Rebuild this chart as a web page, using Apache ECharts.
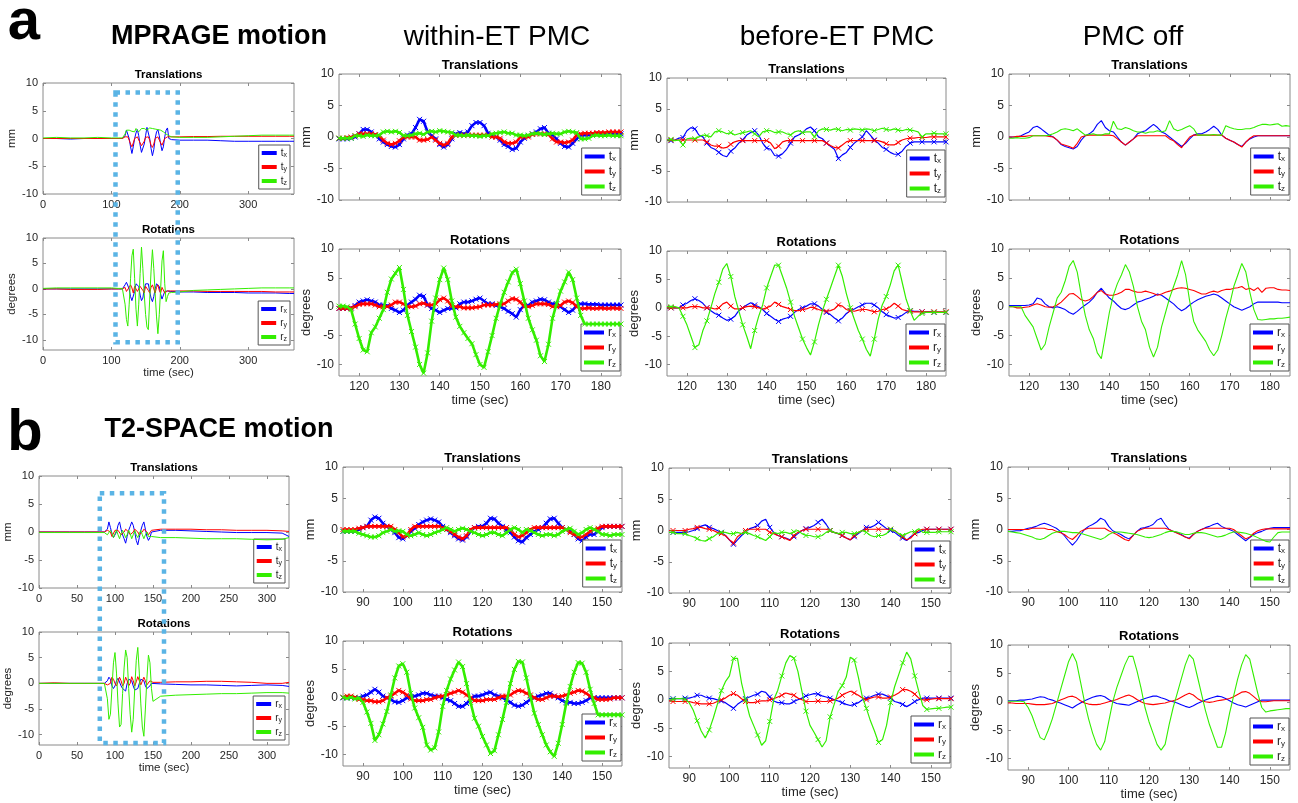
<!DOCTYPE html>
<html><head><meta charset="utf-8">
<script src="https://cdn.jsdelivr.net/npm/echarts@6/dist/echarts.min.js"></script>
<style>html,body{margin:0;padding:0;background:#fff}#c{width:1298px;height:803px}</style>
</head><body><div id="c"></div><script>
// ---------- time stamps (sec) ----------
const TA = [115,116,117,118,119,120,121,122,123,124,125,126,127,128,129,130,131,132,133,134,135,136,137,138,139,140,141,142,143,144,145,146,147,148,149,150,151,152,153,154,155,156,157,158,159,160,161,162,163,164,165,166,167,168,169,170,171,172,173,174,175,176,177,178,179,180,181,182,183,184,185];
const TB = [85,86,87,88,89,90,91,92,93,94,95,96,97,98,99,100,101,102,103,104,105,106,107,108,109,110,111,112,113,114,115,116,117,118,119,120,121,122,123,124,125,126,127,128,129,130,131,132,133,134,135,136,137,138,139,140,141,142,143,144,145,146,147,148,149,150,151,152,153,154,155];
const TA1 = [0,20,40,60,80,100,110,116,118,120,122,124,126,128,130,132,134,136,138,140,142,144,146,148,150,152,154,156,158,160,162,164,166,168,170,172,174,176,178,180,182,184,186,188,190,200,220,240,260,280,300,320,340,360,367];
const TB1 = [0,20,40,60,80,86,88,90,92,94,96,98,100,102,104,106,108,110,112,114,116,118,120,122,124,126,128,130,132,134,136,138,140,142,144,146,148,150,160,180,200,220,240,260,280,300,320,329];

// ---------- tick labels ----------
const XT_A1 = [0,100,200,300];
const XT_B1 = [0,50,100,150,200,250,300];
const XT_A = [120,130,140,150,160,170,180];
const XT_B = [90,100,110,120,130,140,150];
const YT = [-10,-5,0,5,10];
const TN = ['tx','ty','tz'];
const RN = ['rx','ry','rz'];

// ---------- a: MPRAGE overview ----------
const A1T_tx = [0,0,-0.1,0,0,0,0,0, 0,0.5,1.5,1.8,0,-1.5,-2.7,-1.5,0,1,1.6,0.5,-1.2,-2.5,-2.8,-1,0.5,2,1.8,0,-1.8,-3.1,-2,0,1.2,1.6,0.5,-1,-2.2,-1.5,0.3,1.5,1.9,0,-0.2,-0.2,-0.2, -0.3,-0.3,-0.3,-0.4,-0.5,-0.5,-0.5,-0.5,-0.5,-0.5];
const A1T_ty = [0,0,0,0,0,0,0,0, 0,0.3,0.5,0.3,-0.3,-1,-1.5,-0.8,0,0.3,0.3,0,-0.8,-1.3,-1.5,-0.5,0.2,0.3,0.3,-0.3,-1.2,-1.6,-1,0,0.3,0.3,0,-0.8,-1.2,-1,0,0.3,0.3,0.3,0.3,0.3,0.3, 0.3,0.35,0.35,0.4,0.4,0.4,0.4,0.4,0.4,0.4];
const A1T_tz = [0.1,0.2,0.1,0.1,0.2,0.1,0.1,0.1, 0.3,0.8,1.5,1.2,1.5,1.8,1.3,1.6,1.2,1.8,1.5,1.2,1.5,1.8,1.5,1.8,2.0,1.5,1.8,1.9,1.6,1.8,2.0,1.7,1.8,1.6,1.8,1.5,1.4,1.2,1.0,0.8,0.6,0.5,0.4,0.3,0.3, 0.2,0.2,0.2,0.3,0.4,0.5,0.6,0.6,0.6,0.6];
const A1R_rx = [0,0,0,0,0,0,0,0, 0.3,0.8,1.3,1.5,0,-1.5,-2.3,-2.2,-0.5,1,1.3,0.5,-1.2,-2.3,-1.8,0,1,1.2,1,-0.5,-1.8,-2.5,-1.5,0,1,1.2,0.5,-1,-2,-1.8,-0.5,-0.3,-0.4,-0.5,-0.5,-0.5,-0.5, -0.6,-0.6,-0.7,-0.7,-0.7,-0.8,-0.8,-0.8,-0.9,-0.9];
const A1R_ry = [0,0,-0.1,-0.1,-0.1,0,0,0, 0,0.3,-0.5,-0.8,0.3,0.8,0.2,-0.8,0.5,0.8,-0.5,-0.8,0.5,0.8,-0.3,-0.8,0.5,0.8,-0.3,-0.8,0.3,0.8,0,-0.8,0.3,0.8,-0.3,-0.8,0.3,0.5,-0.8,-0.5,-0.4,-0.4,-0.4,-0.4,-0.4, -0.4,-0.4,-0.5,-0.5,-0.5,-0.5,-0.5,-0.6,-0.6,-0.6];
const A1R_rz = [0.1,0.2,0.2,0.2,0.2,0.2,0.1,0.1, 0,-3,-6,-7.3,-3,2,6.5,7.8,2,-4,-7.3,-3,3,8.2,4,-1,-5,-7.5,-8,-2,3.5,7.7,4,-1,-5.5,-8.8,-5,0,5.5,7.5,1,-2.5,-1.5,-0.8,-0.7,-0.7,-0.7, -0.6,-0.3,-0.2,-0.1,0,0.1,0.2,0.2,0.2,0.2];

// ---------- a: within-ET PMC ----------
const A2T_tx = [-0.3,-0.3,-0.3,-0.2,0,0.5,1.2,1.2,0.8,0.3, -0.3,-0.8,-1.2,-1.5,-1.6,-1.2,-0.3,0.3,0.5,1.5, 2.8,2.5,0.8,0.2,-0.3,-1.2,-1.6,-1.2,-0.3,0.5, 0.7,0.5,0.8,1.8,2.3,2.3,1.8,0.6,0.3,0, -0.5,-1.2,-1.5,-2.0,-1.8,-0.8,-0.2,0.2,0.5,0.8, 1.3,1.5,0.6,0.3,-0.3,-1.0,-1.5,-1.6,-1.0,-0.3, 0.3,0.3,0.3,0.4,0.4,0.4,0.5,0.5,0.5,0.5,0.5];
const A2T_ty = [-0.2,-0.2,-0.1,0,0.2,0.5,0.5,0.5,0.5,0.4, 0.2,-0.5,-1.0,-1.2,-1.0,-0.6,0,0,0,0, -0.5,-0.5,-0.4,0,-0.5,-1.0,-1.3,-1.0,0,0.3, 0.3,0.3,0.3,0.3,0.3,0.3,0.3,0.3,0,0, -0.2,-0.8,-1.0,-1.0,-0.8,0,0,0,0.4,0.5, 0.5,0.5,0.4,-0.3,-0.8,-0.8,-0.9,-0.8,-0.5,0.3, 0.5,0.6,0.6,0.6,0.7,0.7,0.7,0.8,0.8,0.8,0.8];
const A2T_tz = [-0.2,-0.2,-0.2,-0.2,0.2,0.2,0.1,0.3,0.2,0.2, 0.3,0.8,0.9,0.8,0.9,0.7,0.2,0.2,0.3,0.5, 0.6,0.4,0.8,0.9,0.8,1.0,0.9,0.8,0.7,0.3, 0.3,0.2,0.3,0.2,0.2,0.1,0.2,0.2,0.5,0.6, 0.7,0.8,0.6,0.6,0.3,0.3,0.2,0.3,0.5,0.6, 0.5,0.4,0.5,0.6,0.5,0.5,0.8,0.9,0.8,0.7, -0.3,-0.3,-0.2,0.2,0.3,0.2,0.2,0.3,0.2,0.2,0.2];
const A2R_rx = [-0.3,-0.3,-0.3,-0.2,0.2,0.8,1.0,1.2,1.0,0.8, 0.3,0.3,0.2,-0.3,-0.6,-1.0,-0.6,0.3,0.8,1.3, 2.0,1.8,0.3,-0.3,-0.6,-1.0,-0.6,-0.3,-0.3,-0.2, 0.5,0.8,0.8,1.0,1.3,1.5,1.0,0.5,0.5,0.2, 0,-0.3,-0.8,-1.2,-1.8,-0.5,0.2,0.2,0.8,1.0, 1.3,1.2,0.8,0.5,0.5,0,-0.5,-1.0,-0.6,0.2, 0.5,0.5,0.4,0.4,0.4,0.3,0.3,0.3,0.3,0.3,0.3];
const A2R_ry = [-0.3,-0.3,-0.3,-0.2,0,0.4,0.5,0.5,0.5,0.3, 0,0,0,0.3,0.8,0.8,0.5,0,0,0.1, 0.5,0.6,0.3,0.3,0.5,1.2,1.5,1.0,0.1,0, 0,-0.2,-0.2,-0.2,-0.1,0,0.3,0.3,0.3,0.4, 0.5,0.5,1.0,1.4,1.3,0.8,0,0,0.2,0.5, 0.5,0.5,0.4,0,0,0.2,0.8,1.0,0.7,0, -0.3,-0.3,-0.2,-0.3,-0.3,-0.2,-0.3,-0.3,-0.2,-0.3,-0.3];
const A2R_rz = [0.1,0.1,0,-0.5,-3,-5.5,-7.5,-7.8,-4.5,-3.5, -2,-0.5,2.5,4.8,5.8,6.8,3,-1.5,-4.3,-7, -10,-11.5,-8,-2.5,1.5,4.7,6.7,4.7,1,-1.8, -3.4,-4.5,-5.5,-6.4,-8.3,-10,-10.5,-7.8,-5,-2, 0.4,2.5,4.3,5.9,6.5,4,1,-2,-4,-5.8, -8.5,-9.5,-6.5,-2,0.5,2.7,4.3,6,4.7,1.5, -1.5,-3,-3,-3,-3,-3,-3,-3,-3,-3,-3];

// ---------- a: before-ET PMC ----------
const A3T_tx = [0,-0.1,0,0.3,0.4,1.5,2.0,1.8,0.8,0.5, -0.5,-1.2,-1.5,-2.0,-2.5,-2.7,-1.8,-1.3,-0.5,0, 0.8,1.2,1.5,0.8,-0.5,-1.3,-1.5,-2.5,-2.6,-2.2, -1.5,-0.5,0.5,0.8,1.2,1.8,2.1,1.5,0.5,0.2, -0.5,-1.0,-1.5,-3.0,-2.4,-2.0,-1.2,-0.5,0,0.5, 1.5,0.8,0,-0.5,-1.2,-1.5,-2.0,-2.3,-2.3,-1.8, -1.0,-0.5,-0.3,-0.3,-0.3,-0.3,-0.3,-0.3,-0.3,-0.3,-0.3];
const A3T_ty = [0,0,0,0,0,0,0,0,0,0, -0.3,-0.8,-1.0,-1.0,-1.3,-1.2,-0.7,-0.3,-0.1,-0.1, -0.1,-0.1,-0.1,-0.1,-0.1,-0.1,-0.5,-1.4,-1.0,-0.3, -0.1,-0.1,-0.1,-0.1,-0.1,-0.1,-0.1,-0.1,-0.1,-0.1, -0.5,-0.9,-1.2,-1.3,-0.8,-0.3,-0.1,-0.1,-0.1,-0.1, -0.1,-0.1,-0.1,-0.1,-0.3,-0.6,-0.8,-0.8,-0.4,0, 0.2,0.3,0.3,0.4,0.4,0.4,0.5,0.5,0.5,0.5,0.5];
const A3T_tz = [0,0.1,-0.1,0,-0.8,0.2,0.3,0.2,0.5,0.8, 0.7,0.5,1.3,1.5,1.3,1.0,1.2,0.8,1.0,1.2, 1.3,1.5,1.0,0.5,1.3,1.5,1.5,1.2,1.3,1.3, 1.0,0.8,1.3,1.5,1.2,1.3,1.3,0.5,1.5,1.8, 1.7,1.6,1.8,1.7,1.5,1.7,1.6,1.8,1.7,1.6, 1.8,1.7,1.5,1.7,1.9,1.7,1.6,1.8,1.6,1.5, 1.7,1.6,1.5,1.3,0.5,1.0,1.0,1.1,1.0,1.0,1.0];
const A3R_rx = [0,0,0,0,0.5,0.8,1.3,1.6,1.3,0.8, 0,-0.5,-1.0,-1.3,-1.8,-2.2,-2.0,-1.5,-0.5,0, 0.5,0.9,0.5,0.2,-0.3,-1.0,-1.5,-2.0,-2.4,-2.0, -1.8,-1.5,-0.8,-0.3,0,0.3,0.7,0.7,0.3,-0.3, -0.8,-1.2,-1.8,-2.3,-1.8,-1.0,-0.5,-0.2,0.2,0.5, 0.8,0.8,0.5,0,-0.7,-1.2,-1.5,-1.8,-1.7,-1.3, -0.8,-0.5,-0.6,-0.6,-0.7,-0.7,-0.7,-0.8,-0.8,-0.8,-0.8];
const A3R_ry = [0,0,0,0,0,0,0.2,0.2,0.2,0, 0,0,-0.2,0,0.7,1.0,0.3,-0.2,-0.2,0, 0.2,0.3,0.2,0,-0.2,0,0.3,1.0,0.6,0.2, 0,-0.3,-0.5,-0.5,-0.3,-0.2,0.1,0,-0.3,-0.5, -0.6,-0.5,-0.2,0.5,0.3,-0.3,-0.5,-0.6,-0.4,-0.3, -0.3,-0.5,-0.7,-0.6,-0.3,-0.2,0.2,0.8,0.3,-0.3, -0.5,-0.6,-0.7,-0.7,-0.7,-0.7,-0.7,-0.7,-0.7,-0.7,-0.7];
const A3R_rz = [0.2,0.2,0.2,0,-1.5,-3,-5,-7,-6.5,-4, -2.3,0,2.5,4.5,6.8,7.8,5.5,2,-0.5,-3, -5,-7.2,-4,-1.5,0.5,3.5,5.5,7.5,7.5,5.5, 3.5,1,-1.5,-3.5,-5.5,-7,-8.3,-6,-3,-0.5, 1.5,3.5,5.5,7.5,5.5,2.5,0,-2,-4,-5.5, -7.3,-8.5,-5.5,-2,0.5,2,4,6.5,7.5,4.5, 1.5,-0.5,-2.2,-1.5,-1,-0.8,-0.8,-0.8,-0.8,-0.8,-0.8];

// ---------- a: PMC off ----------
const A4T_tx = [0,0,0,0.2,0.5,0.8,1.5,1.7,1.3,0.8, 0.3,0,-0.5,-1.2,-1.5,-1.7,-1.9,-1.5,-0.5,0.2, 0.5,1.0,2.0,2.6,1.5,1.0,0.8,0,-0.8,-1.3, -0.8,-0.3,0.5,0.8,1.0,1.5,2.0,1.5,0.8,0.5, 0,-0.5,-1.0,-1.5,-1.0,-0.3,0.3,0.5,0.5,0.8, 1.2,1.7,1.2,0.3,-0.2,-0.5,-0.8,-1.2,-1.5,-0.8, -0.3,0,0.2,0.2,0.2,0.2,0.2,0.2,0.2,0.2,0.2];
const A4T_ty = [0,0,0.1,0.1,0.1,0.2,0.2,0.2,0.2,0.2, 0.1,0,-0.5,-1.1,-1.3,-1.5,-1.8,-1.0,0,0.2, 0.3,0.3,0.3,0.3,0.3,0.3,0.2,-0.3,-0.8,-1.3, -0.8,-0.3,0.2,0.2,0.2,0.2,0.2,0.2,0.2,0.2, -0.3,-0.6,-1.2,-1.7,-0.8,0,0.3,0.3,0.3,0.3, 0.3,0.3,0.3,0.3,-0.2,-0.5,-0.8,-1.2,-1.6,-0.8, -0.2,0.2,0.2,0.2,0.2,0.2,0.2,0.2,0.2,0.2,0.2];
const A4T_tz = [-0.2,-0.2,-0.1,-0.2,-0.2,-0.1,0.2,0.2,0.2,0.2, 0.3,0.5,0.8,1.2,1.3,1.2,1.0,1.3,0.8,0.3, 0.4,0.5,0.3,0.3,0.5,0.5,2.5,1.3,1.2,1.5, 1.3,1.0,0.8,0.8,0.6,0.8,0.8,1.0,0.8,1.0, 2.6,1.3,1.0,1.2,1.5,1.8,1.3,0.3,0.3,0.3, 0.3,0.4,0.3,0.3,1.8,1.5,1.3,1.2,1.2,1.3, 1.3,1.5,1.8,2.0,2.0,1.9,2.0,2.1,1.7,1.8,1.7];
const A4R_rx = [0.2,0.2,0.2,0.2,0.2,0.3,0.5,1.5,1.3,0.5, 0,-0.2,0,-0.2,-0.5,-1.0,-1.3,-0.8,-0.2,0.3, 0.8,1.5,2.5,3.2,2.3,1.5,1.0,0.3,-0.3,-0.5, -0.2,0.3,0.8,1.0,1.3,1.5,1.8,2.2,2.0,1.5, 1.0,0.5,-0.2,-0.7,-0.3,0.3,0.8,1.2,1.5,1.8, 2.0,2.2,2.0,1.5,1.0,0.5,0,-0.3,-0.6,-0.3, 0,0.5,0.8,0.8,0.8,0.8,0.8,0.8,0.7,0.7,0.7];
const A4R_ry = [0,0,-0.2,-0.2,-0.1,0,0.3,0.5,0.3,0, -0.1,0,0.3,0.8,1.5,2.2,2.3,1.8,1.2,1.0, 1.2,1.8,2.5,2.8,2.2,2.0,2.0,2.2,2.5,3.0, 3.0,2.7,2.5,2.5,2.7,2.5,2.3,2.0,2.2,2.5, 2.7,3.0,3.2,3.3,3.2,3.0,2.8,2.5,2.2,2.2, 2.5,2.7,2.5,2.8,3.0,3.0,3.2,3.3,3.5,3.0, 3.2,2.8,3.3,2.5,3.2,3.3,3.3,3.0,2.9,2.9,2.8];
const A4R_rz = [0,0,0,0,-1.5,-2.5,-3.5,-5.5,-7.5,-6.5, -3.5,-1,1.5,2.5,4.5,7,8,6,2,-1.5, -4,-5.5,-8,-9,-5,-1,2,4,5.5,7.3, 6,3.5,0,-2.5,-4,-7,-8.7,-7,-3.5,-1, 1.5,3.5,5.5,8,5.5,1,-2.5,-4,-5,-6, -7.5,-8.5,-7.5,-5,-2,0.5,3.5,5.5,7.5,6, 2.5,-0.5,-2.2,-2.3,-2.2,-2.1,-2.1,-2.0,-2.0,-1.9,-1.8];

// ---------- b: T2-SPACE overview ----------
const B1T_tx = [0,0,0,0,0,0, 0,0.5,1.8,0.8,-0.3,-1,-1.3,0,1.2,1.8,0.5,-0.5,-1.2,-2,-0.8,0.3,1,1.8,1.2,0,-1.5,-2.3,-1,0.3,1.2,1.8,0.5,-0.8,-1.5,-1,0,0.3, 0.3,0.3,0.2,0.1,0,-0.1,-0.1,-0.1,-0.2,-0.8];
const B1T_ty = [0,0,0,0,0,0, 0,0.3,0.3,0,-0.8,-0.5,0.3,0.5,0.3,0,-0.5,-0.8,0,0.5,0.3,0,-0.5,-0.8,0,0.5,0.3,0,-0.5,-0.8,0,0.5,0.3,0,-0.5,-0.3,0.3,0.5, 0.5,0.5,0.5,0.4,0.4,0.3,0.3,0.3,0.2,0.1];
const B1T_tz = [-0.1,-0.1,-0.1,-0.1,-0.1,-0.1, -0.3,-0.5,-0.3,0.3,-0.2,-1,-0.3,0.3,-0.5,-1.2,-0.3,0.3,-0.3,-1,-0.5,0.3,-0.3,-1.2,-0.5,0.3,-0.5,-1,-0.3,0.3,-0.5,-1.2,-0.5,0,-0.8,-1.0,-0.8,-0.8, -1,-1,-1.1,-1.2,-1.2,-1.2,-1.3,-1.4,-1.3,-1.0];
const B1R_rx = [0,0,0,0,0,0, 0,0.5,1.2,0.8,-0.5,-1,-0.5,0.5,1,0.8,-0.5,-1,-0.8,-1.5,0,0.8,1,0.5,-0.5,-1.3,-1.5,-1,0,0.8,1,0.5,-0.5,-1,-1.3,-0.5,0,0, -0.1,-0.2,-0.3,-0.3,-0.4,-0.5,-0.4,-0.3,-0.4,-0.6];
const B1R_ry = [0,0.1,0,0,0,0, 0,-0.3,-0.5,0,1.2,0.8,0,-0.5,0.3,1.2,0.5,-0.5,0,1.2,0.5,-0.5,0,1.3,0.5,-0.5,0.3,1.3,0.5,-0.3,0,1.2,0.5,-0.3,0,0.5,0.3,0.2, 0.2,0.3,0.3,0.4,0.4,0.3,0.2,0,0,0.2];
const B1R_rz = [0,0,0,0,0,0, 0,-3,-7,-6,-1,4,6,2,-4,-8.5,-8,-2,3,6.5,5,-1,-6,-9.5,-7,-1,4.5,7,2,-4,-8.5,-10.3,-5,1,5.5,4,-1,-3.5, -2.5,-2.3,-2.2,-2.1,-2,-2,-1.9,-1.8,-1.8,-1.9];

// ---------- b: within-ET PMC ----------
const B2T_tx = [-0.3,-0.3,-0.3,-0.3,0,0.3,0.5,1.5,2.0,1.8, 1.0,0.5,0,-0.5,-1.3,-1.5,-1.0,-0.3,0.2,0.8, 1.2,1.5,1.7,1.5,1.2,0.5,0,-0.5,-1.0,-1.5, -1.7,-1.2,-0.3,0.3,0.5,0.5,1.0,1.8,1.7,1.0, 0.5,0,-0.5,-1.2,-1.8,-2.0,-1.3,-0.8,-0.3,0, 0.3,1.0,1.7,1.8,1.0,0.3,0,-0.3,-0.8,-1.5, -1.8,-1.2,-0.8,-0.8,-0.3,0.3,0.5,0.5,0.5,0.5,0.5];
const B2T_ty = [0,0,0,0,0.2,0.3,0.5,0.5,0.5,0.5, 0.5,0.5,0.5,0,-0.5,-1.2,-1.0,0,0.5,0.5, 0.5,0.5,0.5,0.5,0.5,0.3,0,-0.3,-0.8,-1.2, -1.5,-1.0,0,0.3,0.3,0.3,0.3,0.3,0.3,0.3, 0.3,0.3,0,-0.8,-1.2,-1.0,-0.5,0,0.3,0.3, 0.3,0.3,0.3,0.3,0.3,0.3,0,-0.5,-0.8,-1.2, -1.2,-0.8,-0.3,0,0.2,0.5,0.5,0.5,0.5,0.5,0.5];
const B2T_tz = [-0.3,-0.3,-0.3,-0.3,-0.6,-0.8,-1.0,-1.2,-1.2,-1.0, -0.5,-0.3,0,-0.3,-0.2,-0.3,-0.8,-1.0,-0.8,-0.5, -0.8,-1.0,-0.8,-0.5,-0.3,0,0.3,0,-0.3,0, 0.2,0,-0.3,-0.5,-0.8,-1.0,-0.8,-0.5,-0.5,-0.8, -1.0,-0.5,0,0.3,0,-0.5,0,-0.2,-0.5,-0.8, -1.0,-0.8,-0.8,-1.0,-0.8,-0.3,0,0.2,-0.3,-0.8, -0.5,0,0.3,0,-0.3,-0.8,-0.8,-1.0,-0.8,-0.8,-0.8];
const B2R_rx = [0,0,0,0,0,0.3,0.5,1.0,1.5,1.0, 0.3,0,-0.3,-0.7,-0.8,-0.5,0,0.2,0.3,0.5, 0.8,0.8,0.5,0.3,0.3,0,-0.3,-0.5,-1.0,-1.5, -1.5,-1.0,-0.2,0.3,0.3,0.5,0.8,1.0,0.5,0.3, 0,-0.3,-0.8,-1.3,-1.5,-1.3,-0.8,-0.3,0,0.3, 0.5,0.8,0.8,0.3,0,-0.5,-0.8,-0.8,-1.0,-1.0, -0.8,-0.5,0,0,0,0,0,0,0,0,0];
const B2R_ry = [0.1,0.3,0.3,0.1,-0.3,-0.3,-0.5,-0.5,-0.7,-0.7, -0.5,0,0.3,0.8,1.3,1.0,0.5,-0.2,-0.5,-0.5, -0.5,-0.3,-0.3,0,0.2,0.3,0.5,0.8,1.0,1.3, 1.0,0.5,0,-0.5,-0.5,-0.5,-0.3,-0.3,-0.3,0, 0.3,0.3,0.5,1.0,1.3,1.2,0.8,0.5,0,-0.3, -0.3,0,0.3,0.3,0.2,0.3,0.5,0.8,1.0,1.3, 1.2,0.8,0.3,0,-0.3,-0.3,-0.3,-0.2,0,0,0];
const B2R_rz = [0.1,-0.1,0.1,-0.2,0,-0.8,-2.5,-4.5,-7.5,-6.5, -4.6,-2.4,0.5,3.5,5.6,6,4.5,0.8,-1.8,-3.5, -5.2,-8.3,-9.2,-8.8,-6,-1.5,1.3,3.3,4.9,6.3, 5.5,2.5,-0.8,-3.6,-5,-6.8,-8.3,-9.8,-9.3,-6.5, -3.8,-0.8,2.5,5,6.4,6.3,3.5,0.3,-2.7,-4.7, -6.5,-8.3,-9.5,-10.3,-8,-4.7,-1,2,4.5,6.2, 6.1,4.5,1.5,-1,-3,-3,-3,-3,-3,-3,-3];

// ---------- b: before-ET PMC ----------
const B3T_tx = [-0.3,-0.3,-0.3,-0.3,-0.3,-0.2,0,0.3,0.7,0.9, 0.5,0.3,0,-0.3,-0.8,-1.5,-2.2,-1.5,-0.8,-0.3, 0.3,0.5,0.8,1.5,1.8,0.5,-0.3,-0.8,-1.0,-1.2, -1.5,-1.0,-0.5,0,0.3,0.5,0.8,1.3,1.8,1.0, 0,-0.3,-0.5,-0.8,-1.2,-1.5,-1.0,-0.5,0,0.5, 0.5,0.8,1.3,0.8,0.3,0,-0.3,-0.8,-1.2,-1.6, -1.0,-0.5,-0.3,0,0.2,0.2,0.2,0.2,0.2,0.2,0.2];
const B3T_ty = [0,0,0,0,0,0.2,0.3,0.5,0.5,0.3, 0.2,0,-0.3,-0.5,-0.8,-1.5,-2.0,-1.0,-0.5,0, 0.2,0.2,0.2,0.2,0.2,-0.3,-0.5,-0.8,-1.0,-1.3, -1.6,-0.8,-0.3,0,0.2,0.2,0.2,0.2,0.2,0.2, 0,-0.3,-0.5,-0.8,-1.2,-1.5,-0.8,-0.3,0,0.2, 0.2,0.2,0.2,0.2,0.2,0.2,0,-0.5,-1.0,-1.5, -1.2,-0.5,0,0.2,0.2,0.2,0.2,0.2,0.2,0.2,0.2];
const B3T_tz = [-0.3,-0.3,-0.5,-0.5,-0.5,-0.8,-1.0,-1.3,-1.6,-1.7, -1.3,-1.0,-0.5,-0.3,-0.3,-0.5,-0.5,-0.3,-0.5,-0.3, -0.5,-0.8,-1.0,-1.3,-1.6,-1.0,-0.3,-0.5,-0.3,-0.3, -0.5,-0.2,0,-0.5,-0.8,-0.8,-1.0,-1.0,-0.8,-0.3, 0,-0.3,-0.5,-0.3,-0.3,-0.5,-0.5,-0.3,0,-0.3, -0.8,-1.0,-0.8,-0.8,-0.5,0.2,0,-0.5,-0.8,-0.5, -0.2,-0.2,0.3,-0.3,-0.3,-0.3,-0.3,-0.2,-0.2,-0.2,-0.2];
const B3R_rx = [0.2,0.2,0.2,0.2,0.3,0.3,0.5,0.8,0.8,0.5, 0.3,0.2,0,-0.2,-0.5,-1.0,-1.5,-0.8,-0.3,0.2, 0.5,0.8,1.0,1.5,1.3,0.5,-0.2,-0.5,-0.5,-0.7, -0.7,-0.3,0,0.3,0.7,0.9,1.1,1.0,0.7,0.5, 0.3,0,-0.2,-0.5,-0.8,-1.0,-0.8,-0.5,0,0.3, 0.5,0.8,1.0,1.0,0.7,0.3,-0.3,-0.5,-0.8,-1.2, -0.8,-0.3,0,0.3,0.3,0.3,0.3,0.3,0.3,0.3,0.3];
const B3R_ry = [-0.2,-0.3,-0.3,-0.3,-0.3,-0.3,-0.5,-0.6,-0.7,-0.7, -0.7,-0.6,-0.3,0,0.3,0.8,1.1,0.8,0.2,-0.3, -0.5,-0.5,-0.3,-0.2,-0.2,0,0.2,0.5,0.8,1.2, 1.0,0.8,0.3,0,-0.3,-0.3,-0.3,-0.2,-0.3,-0.3, -0.2,0,0.3,0.8,1.2,1.5,1.2,0.8,0.3,0, 0.3,0.5,0.5,0.3,0.3,0.5,0.8,1.2,1.8,1.8, 1.5,1.0,0.3,0,0,0.1,0.2,0.2,0.2,0.2,0.2];
const B3R_rz = [0.1,0.1,0.2,0.2,0.1,-0.5,-1.8,-3.7,-5.5,-6.7, -5.3,-3.2,-0.8,1.6,3.2,4.2,7.3,7.3,3,0, -2.8,-4.5,-6.2,-8,-7.2,-3.8,0,1.7,4.2,6.5, 7.8,7.3,5,1.5,-2,-4.5,-5.7,-7,-8.3,-7.2, -3,-0.8,1.5,2.5,4,7.5,7,4,0.5,-1.5, -3.7,-5.5,-7.5,-7,-4.5,-0.5,2.3,4.4,6.5,8.4, 7.2,4.2,1.5,-1,-1.7,-1.6,-1.5,-1.5,-1.4,-1.3,-1.3];

// ---------- b: PMC off ----------
const B4T_tx = [-0.3,-0.3,-0.2,-0.2,0,0.2,0.3,0.5,0.8,1.0, 0.8,0.5,0.2,-0.3,-1.0,-1.8,-2.5,-1.8,-0.8,0, 0.5,0.8,1.2,1.8,1.5,0.5,-0.2,-0.5,-0.8,-1.2, -1.5,-1.0,-0.3,0.2,0.3,0.5,0.8,1.5,1.8,0.8, 0,-0.3,-0.5,-0.8,-1.2,-1.4,-0.8,-0.3,0,0.3, 0.5,0.8,1.0,0.5,0.2,0,-0.3,-0.8,-1.3,-1.8, -1.3,-0.8,-0.5,-0.3,0,0.2,0.3,0.3,0.3,0.3,0.3];
const B4T_ty = [0,0,0,0,0,0,0.2,0.2,0.2,0.2, 0,0,-0.3,-0.5,-0.8,-1.3,-1.6,-1.0,-0.3,0, 0.2,0.2,0.2,0.2,0.2,-0.2,-0.5,-0.8,-1.2,-1.6, -1.8,-1.0,-0.3,0,0.2,0.2,0.2,0.2,0.2,0.2, 0,-0.3,-0.6,-0.9,-1.2,-1.5,-0.8,-0.3,0,0.2, 0.2,0.2,0.2,0.2,0.2,0.2,0,-0.5,-1.0,-1.5, -1.2,-0.6,-0.2,0,0.1,0.1,0.1,0.1,0.1,0.1,0.1];
const B4T_tz = [-0.3,-0.4,-0.5,-0.6,-0.8,-1.0,-1.2,-1.5,-1.6,-1.4, -1.0,-0.6,-0.4,-0.3,-0.3,-0.4,-0.5,-0.5,-0.6,-0.8, -1.0,-1.2,-1.4,-1.6,-1.3,-0.8,-0.5,-0.4,-0.4,-0.5, -0.6,-0.7,-0.8,-1.0,-1.2,-1.3,-1.2,-1.0,-0.8,-0.5, -0.3,-0.3,-0.4,-0.6,-0.8,-0.8,-0.6,-0.5,-0.5,-0.6, -0.8,-1.0,-1.2,-1.1,-0.9,-0.6,-0.4,-0.4,-0.5,-0.6, -0.8,-1.0,-1.3,-1.6,-1.9,-2.0,-1.2,-0.5,-0.4,-0.4,-0.4];
const B4R_rx = [0.2,0.2,0.2,0.3,0.3,0.4,0.5,0.7,0.9,0.8, 0.5,0.3,0,-0.2,-0.5,-0.8,-1.1,-0.6,-0.2,0.2, 0.5,0.8,1.0,1.1,0.9,0.4,0,-0.3,-0.4,-0.5, -0.6,-0.3,0,0.3,0.6,0.8,1.0,1.0,0.7,0.5, 0.2,0,-0.2,-0.5,-0.8,-1.0,-0.7,-0.3,0,0.3, 0.6,0.8,1.0,0.9,0.6,0.2,-0.2,-0.5,-0.7,-0.9, -0.6,-0.3,0,0.3,0.3,0.3,0.3,0.3,0.3,0.3,0.3];
const B4R_ry = [-0.2,-0.2,-0.3,-0.3,-0.3,-0.3,-0.4,-0.5,-0.5,-0.5, -0.4,-0.3,0,0.3,0.6,0.9,1.0,0.7,0.2,-0.2, -0.4,-0.5,-0.5,-0.4,-0.2,0,0.2,0.4,0.7,1.0, 1.2,0.9,0.4,0,-0.3,-0.4,-0.5,-0.4,-0.3,-0.2, 0,0.2,0.4,0.8,1.2,1.5,1.2,0.6,0.2,0, -0.1,0,0.2,0.3,0.4,0.6,0.9,1.3,1.7,1.8, 1.5,0.9,0.3,0,0,0.1,0.2,0.2,0.2,0.2,0.2];
const B4R_rz = [0.1,0.1,0.1,0.1,0,-1,-2.5,-4.5,-6.3,-6.7, -5,-3,-0.5,2,4.5,7,8.5,7,3.5,0, -3,-5.5,-7.5,-8.5,-7,-3.5,0,2.5,4.5,6.5, 8,8,5.5,2.5,-1,-3.5,-5.5,-7.5,-8.5,-7.5, -4,-1,1.5,4,6.5,8.3,7.5,4.5,1.5,-1.5, -4,-6,-8,-8,-5.5,-2,1,4,6.5,8.3, 7.5,4.5,1.5,-1,-1.8,-1.6,-1.5,-1.4,-1.3,-1.2,-1.2];

// ---------- layout / styling ----------
const FONT = '"Liberation Sans", Arial, Helvetica, sans-serif';
const COLORS = ['#0000ff', '#ff0000', '#33ee00'];
const CROSS = 'path://M0 0L10 10M10 0L0 10';

const plots = [
  {box:[43,83,294,194],   t:TA1, v:[A1T_tx,A1T_ty,A1T_tz], n:TN, xr:[0,367], xt:XT_A1, yr:[-10,10], yn:'mm', title:'Translations', xlab:true,  xname:false, kind:'ov', small:true},
  {box:[43,238,294,350],  t:TA1, v:[A1R_rx,A1R_ry,A1R_rz], n:RN, xr:[0,367], xt:XT_A1, yr:[-12,10], yn:'degrees', title:'Rotations', xlab:true, xname:true, kind:'ov', small:true},
  {box:[339,74,621,200],  t:TA, v:[A2T_tx,A2T_ty,A2T_tz], n:TN, xr:[115,185], xt:XT_A, yr:[-10,10], yn:'mm', title:'Translations', xlab:false, xname:false, kind:'within'},
  {box:[339,249,621,376], t:TA, v:[A2R_rx,A2R_ry,A2R_rz], n:RN, xr:[115,185], xt:XT_A, yr:[-12,10], yn:'degrees', title:'Rotations', xlab:true, xname:true, kind:'within'},
  {box:[667,78,946,202],  t:TA, v:[A3T_tx,A3T_ty,A3T_tz], n:TN, xr:[115,185], xt:XT_A, yr:[-10,10], yn:'mm', title:'Translations', xlab:false, xname:false, kind:'before'},
  {box:[667,251,946,376], t:TA, v:[A3R_rx,A3R_ry,A3R_rz], n:RN, xr:[115,185], xt:XT_A, yr:[-12,10], yn:'degrees', title:'Rotations', xlab:true, xname:true, kind:'before'},
  {box:[1009,74,1290,200], t:TA, v:[A4T_tx,A4T_ty,A4T_tz], n:TN, xr:[115,185], xt:XT_A, yr:[-10,10], yn:'mm', title:'Translations', xlab:false, xname:false, kind:'off'},
  {box:[1009,249,1290,376],t:TA, v:[A4R_rx,A4R_ry,A4R_rz], n:RN, xr:[115,185], xt:XT_A, yr:[-12,10], yn:'degrees', title:'Rotations', xlab:true, xname:true, kind:'off'},
  {box:[39,476,289,588],  t:TB1, v:[B1T_tx,B1T_ty,B1T_tz], n:TN, xr:[0,329], xt:XT_B1, yr:[-10,10], yn:'mm', title:'Translations', xlab:true, xname:false, kind:'ov', small:true},
  {box:[39,632,289,745],  t:TB1, v:[B1R_rx,B1R_ry,B1R_rz], n:RN, xr:[0,329], xt:XT_B1, yr:[-12,10], yn:'degrees', title:'Rotations', xlab:true, xname:true, kind:'ov', small:true},
  {box:[343,467,622,592], t:TB, v:[B2T_tx,B2T_ty,B2T_tz], n:TN, xr:[85,155], xt:XT_B, yr:[-10,10], yn:'mm', title:'Translations', xlab:true, xname:false, kind:'within'},
  {box:[343,641,622,766], t:TB, v:[B2R_rx,B2R_ry,B2R_rz], n:RN, xr:[85,155], xt:XT_B, yr:[-12,10], yn:'degrees', title:'Rotations', xlab:true, xname:true, kind:'within'},
  {box:[669,468,951,593], t:TB, v:[B3T_tx,B3T_ty,B3T_tz], n:TN, xr:[85,155], xt:XT_B, yr:[-10,10], yn:'mm', title:'Translations', xlab:true, xname:false, kind:'before'},
  {box:[669,643,951,768], t:TB, v:[B3R_rx,B3R_ry,B3R_rz], n:RN, xr:[85,155], xt:XT_B, yr:[-12,10], yn:'degrees', title:'Rotations', xlab:true, xname:true, kind:'before'},
  {box:[1008,467,1290,592], t:TB, v:[B4T_tx,B4T_ty,B4T_tz], n:TN, xr:[85,155], xt:XT_B, yr:[-10,10], yn:'mm', title:'Translations', xlab:true, xname:false, kind:'off'},
  {box:[1008,645,1290,770], t:TB, v:[B4R_rx,B4R_ry,B4R_rz], n:RN, xr:[85,155], xt:XT_B, yr:[-12,10], yn:'degrees', title:'Rotations', xlab:true, xname:true, kind:'off'}
];

const W = 1298, H = 803;
const grid = [], xAxis = [], yAxis = [], series = [], legend = [], graphic = [];
const AX = '#8a8a8a', TXT = '#262626';

plots.forEach((p, i) => {
  const [l, t, r, b] = p.box;
  const fs = p.small ? 11 : 12;
  const nfs = p.small ? 11.5 : 13;
  grid.push({left: l, top: t, width: r - l, height: b - t, show: true, borderColor: AX, borderWidth: 1, backgroundColor: '#fff'});
  const tickStyle = {color: AX, width: 1};
  const noLine = {show: false, onZero: false};
  xAxis.push({type: 'value', gridIndex: i, min: p.xr[0], max: p.xr[1], position: 'bottom',
    axisLine: noLine, splitLine: {show: false},
    axisTick: {show: true, inside: true, length: 3, customValues: p.xt, lineStyle: tickStyle},
    axisLabel: {show: p.xlab, customValues: p.xt, margin: 5, fontSize: fs, color: TXT, fontFamily: FONT},
    name: p.xname ? 'time (sec)' : '', nameLocation: 'middle', nameGap: p.small ? 16 : 18,
    nameTextStyle: {fontSize: nfs, color: TXT, fontFamily: FONT}});
  xAxis.push({type: 'value', gridIndex: i, min: p.xr[0], max: p.xr[1], position: 'top',
    axisLine: noLine, splitLine: {show: false},
    axisTick: {show: true, inside: true, length: 3, customValues: p.xt, lineStyle: tickStyle},
    axisLabel: {show: false}});
  yAxis.push({type: 'value', gridIndex: i, min: p.yr[0], max: p.yr[1], position: 'left',
    axisLine: noLine, splitLine: {show: false},
    axisTick: {show: true, inside: true, length: 3, customValues: YT, lineStyle: tickStyle},
    axisLabel: {customValues: YT, margin: 5, fontSize: fs, color: TXT, fontFamily: FONT},
    name: p.yn, nameLocation: 'middle', nameGap: p.small ? 19 : 22,
    nameTextStyle: {fontSize: nfs, color: TXT, fontFamily: FONT}});
  yAxis.push({type: 'value', gridIndex: i, min: p.yr[0], max: p.yr[1], position: 'right',
    axisLine: noLine, splitLine: {show: false},
    axisTick: {show: true, inside: true, length: 3, customValues: YT, lineStyle: tickStyle},
    axisLabel: {show: false}});

  p.v.forEach((vals, k) => {
    const c = COLORS[k];
    const s = {type: 'line', name: p.n[k], xAxisIndex: 2 * i, yAxisIndex: 2 * i,
      data: p.t.map((x, j) => [x, vals[j]]), animation: false, silent: true,
      lineStyle: {color: c, width: 1}, itemStyle: {color: c, borderColor: c, borderWidth: 1},
      showSymbol: false, symbol: 'none', z: 2 + k};
    if (p.kind === 'within') {
      s.lineStyle.width = 2.6;
      s.showSymbol = true; s.symbol = CROSS; s.symbolSize = 5;
    } else if (p.kind === 'before') {
      s.lineStyle.width = 1.2;
      s.showSymbol = true; s.symbolSize = 5;
      s.symbol = (val, prm) => (prm.dataIndex % 3 === 1 ? CROSS : 'none');
    } else if (p.kind === 'off') {
      s.lineStyle.width = 1.1;
    } else {
      s.lineStyle.width = 1;
    }
    series.push(s);
  });

  legend.push({
    data: p.n.slice(), orient: 'vertical', selectedMode: false,
    right: W - r + (p.small ? 4 : 1), bottom: H - b + 5,
    backgroundColor: '#fff', borderColor: '#555', borderWidth: 1, borderRadius: 0,
    padding: p.small ? [2, 3, 2, 3] : [2, 4, 2, 3], itemGap: 2,
    itemWidth: p.small ? 13 : 18, itemHeight: 2, icon: 'rect',
    formatter: nm => '{m|' + nm[0] + '}{s|' + nm[1] + '}',
    textStyle: {color: TXT, fontFamily: FONT, rich: {
      m: {fontSize: p.small ? 10 : 12, lineHeight: p.small ? 11.5 : 13, color: TXT, fontFamily: FONT},
      s: {fontSize: p.small ? 7 : 8, lineHeight: p.small ? 11.5 : 13, color: TXT, fontFamily: FONT, padding: [5, 0, 0, 0]}
    }}
  });

  graphic.push({type: 'text', x: (l + r) / 2, y: t - 8.5, z: 50,
    style: {text: p.title, fill: '#000', font: 'bold ' + (p.small ? 11.5 : 13) + 'px ' + FONT,
      textAlign: 'center', textVerticalAlign: 'middle', align: 'center', verticalAlign: 'middle'}});
});

const HEADERS = [
  {text: 'a', x: 24, y: 52, size: 58, bold: true, base: true},
  {text: 'MPRAGE motion', x: 219, y: 37, size: 27, bold: true},
  {text: 'within-ET PMC', x: 497, y: 37, size: 28, bold: false},
  {text: 'before-ET PMC', x: 837, y: 37, size: 28, bold: false},
  {text: 'PMC off', x: 1133, y: 37, size: 28, bold: false},
  {text: 'b', x: 25, y: 463, size: 58, bold: true, base: true},
  {text: 'T2-SPACE motion', x: 219, y: 430, size: 27, bold: true}
];
HEADERS.forEach(h => graphic.push({type: 'text', x: h.x, y: h.y, z: 50,
  style: {text: h.text, fill: '#000', font: (h.bold ? 'bold ' : '') + h.size + 'px ' + FONT,
    textAlign: 'center', textVerticalAlign: h.base ? 'bottom' : 'middle', align: 'center', verticalAlign: h.base ? 'bottom' : 'middle'}}));

const chart = echarts.init(document.getElementById('c'), null, {renderer: 'canvas'});
chart.setOption({animation: false, backgroundColor: '#fff', grid, xAxis, yAxis, series, legend, graphic});

// dotted highlight boxes (data coordinates of the overview plots)
const BOXES = [
  {topSeries: 0, botSeries: 3, x0: 106, x1: 197, yTop: 8.3, yBot: -10.5},
  {topSeries: 24, botSeries: 27, x0: 80, x1: 164.5, yTop: 6.9, yBot: -11.6}
];
const extra = BOXES.map((bx, k) => {
  const p0 = chart.convertToPixel({seriesIndex: bx.topSeries}, [bx.x0, bx.yTop]);
  const p1 = chart.convertToPixel({seriesIndex: bx.botSeries}, [bx.x1, bx.yBot]);
  return {type: 'rect', id: 'dot' + k, z: 60, shape: {x: p0[0], y: p0[1], width: p1[0] - p0[0], height: p1[1] - p0[1]},
    style: {fill: 'none', stroke: '#5ab4e5', lineWidth: 4.5, lineDash: [4.5, 5.5]}};
});
chart.setOption({graphic: graphic.concat(extra)});
</script></body></html>
